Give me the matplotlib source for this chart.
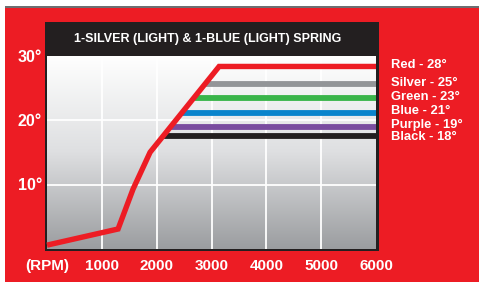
import numpy as np
from matplotlib import pyplot as plt
from matplotlib.patches import Rectangle
from matplotlib.colors import LinearSegmentedColormap

# advance curve (RPM vs degrees)
red_rpm = [0, 1296, 1570, 1880, 3139, 6000]
red_deg = [0.6, 3.1, 9.3, 15.0, 28.3, 28.3]

# spring stop levels (drawn height) and their labels
stop_names = ["Silver", "Green", "Blue", "Purple", "Black"]
stop_levels = [25.6, 23.4, 21.1, 18.9, 17.5]
stop_colors = ["#939598", "#39b54a", "#0a84cc", "#7a4c9f", "#231f20"]
legend_labels = ["Red - 28°", "Silver - 25°", "Green - 23°", "Blue - 21°", "Purple - 19°", "Black - 18°"]

x_ticks = [0, 1000, 2000, 3000, 4000, 5000, 6000]
x_labels = ["(RPM)", "1000", "2000", "3000", "4000", "5000", "6000"]
y_ticks = [10, 20, 30]
y_labels = ["10°", "20°", "30°"]

RED = "#ed1c24"
DARK = "#231f20"
W, H = 479, 282

def fx(px):
    return px / W

def fy(py):
    return 1 - py / H

bold = ["Liberation Sans", "DejaVu Sans"]

fig = plt.figure(figsize=(W / 100, H / 100), dpi=100)
fig.patch.set_facecolor("white")

# red card + thin gray top rule
fig.add_artist(Rectangle((fx(5), 0), 1 - fx(5), fy(8), transform=fig.transFigure,
                         facecolor=RED, edgecolor="none", zorder=0))
fig.add_artist(Rectangle((fx(5), fy(8)), 1 - fx(5), 1.6 / H, transform=fig.transFigure,
                         facecolor="#6d6e71", edgecolor="none", zorder=0))
# black frame with title bar
fig.add_artist(Rectangle((fx(45), fy(251)), (379 - 45) / W, (251 - 22) / H,
                         transform=fig.transFigure, facecolor=DARK, edgecolor="none", zorder=0))

ax = fig.add_axes([fx(47), fy(249), (376 - 47) / W, (249 - 55.5) / H])
ax.set_zorder(1)

bg = LinearSegmentedColormap.from_list("bg", ["#9b9da0", "#dedfe1", "#ffffff"])
ax.imshow(np.linspace(1, 0, 256).reshape(-1, 1), cmap=bg, extent=[0, 6000, 0, 30],
          aspect="auto", zorder=0)

ax.set_xlim(0, 6000)
ax.set_ylim(0, 30)

for x in x_ticks[1:-1]:
    ax.axvline(x, color="white", lw=1.3, zorder=1)
for y in y_ticks[:-1]:
    ax.axhline(y, color="white", lw=1.3, zorder=1)

# stop lines start where they meet the advance curve
for level, color in zip(stop_levels, stop_colors):
    start = np.interp(level, red_deg[:5], red_rpm[:5])
    ax.plot([start, 6000], [level, level], color=color, lw=4.2,
            solid_capstyle="butt", zorder=2)

ax.plot(red_rpm, red_deg, color=RED, lw=3.9, solid_joinstyle="miter",
        solid_capstyle="butt", zorder=3, clip_on=False)

for s in ax.spines.values():
    s.set_visible(False)

ax.set_xticks(x_ticks)
ax.set_xticklabels(x_labels, family=bold, fontweight="bold", fontsize=11, color="white")
ax.set_yticks(y_ticks)
ax.set_yticklabels(y_labels, family=bold, fontweight="bold", fontsize=11.5, color="white")
ax.tick_params(axis="x", length=0, pad=7)
ax.tick_params(axis="y", length=0, pad=3.5)

# right-hand legend text, lined up with each stop line
levels_all = [red_deg[-1]] + stop_levels
offsets = [0.3, 0.2, 0.2, 0.3, 0.3, -0.2]
for level, off, label in zip(levels_all, offsets, legend_labels):
    ax.text(1.046, level + off, label, transform=ax.get_yaxis_transform(),
            family=bold, fontweight="bold", fontsize=9.4, color="white",
            va="center", ha="left", clip_on=False)

fig.text(fx(208), fy(38.5), "1-SILVER (LIGHT) & 1-BLUE (LIGHT) SPRING", family=bold,
         fontweight="bold", fontsize=9, color="white", ha="center", va="center")

fig.savefig("out.png", dpi=100)
